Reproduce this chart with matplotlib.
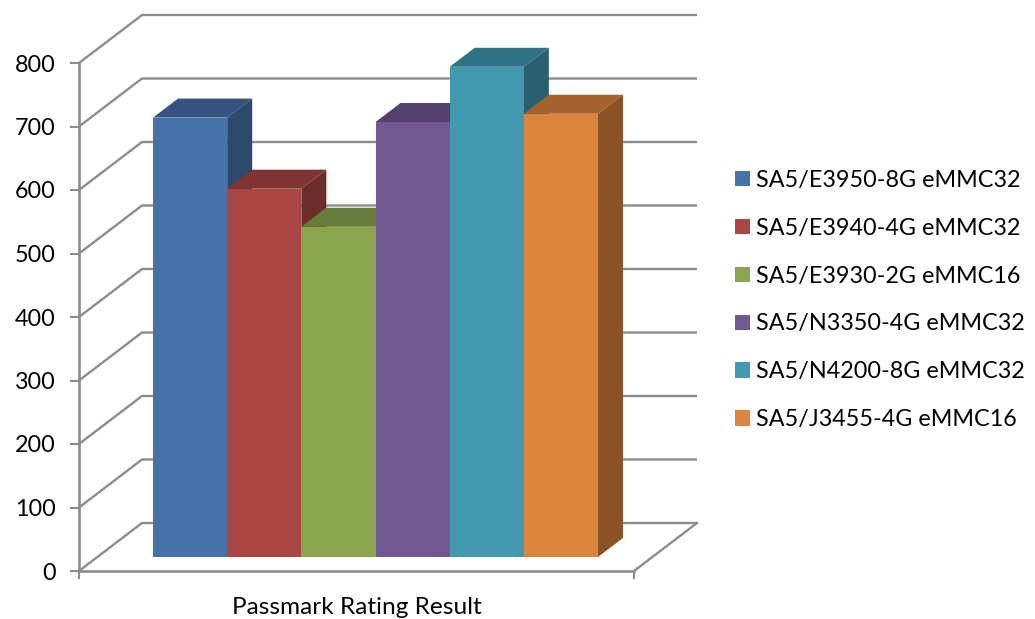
import numpy as np
import matplotlib
matplotlib.use('Agg')
import matplotlib.pyplot as plt

# chart values
names = ['SA5/E3950-8G eMMC32', 'SA5/E3940-4G eMMC32', 'SA5/E3930-2G eMMC16',
         'SA5/N3350-4G eMMC32', 'SA5/N4200-8G eMMC32', 'SA5/J3455-4G eMMC16']
values = [692, 580, 520, 685, 772, 698]
y_ticks = [0, 100, 200, 300, 400, 500, 600, 700, 800]
x_label = 'Passmark Rating Result'

front = ['#4572A7', '#AA4643', '#89A54E', '#71588F', '#4198AF', '#DB843D']
top = ['#34547F', '#803431', '#677C3A', '#54416B', '#307285', '#A5632D']
side = ['#2C486B', '#6C2C2A', '#576932', '#47375A', '#296070', '#8B5426']

plt.rcParams['font.family'] = ['Lato', 'DejaVu Sans']
W, H = 1035, 619
fig = plt.figure(figsize=(W / 100, H / 100), dpi=100)
ax = fig.add_axes([79 / W, 1 - 571 / H, (634 - 79) / W, (571 - 63) / H])

# one category = 74.17 px, one rating unit = 0.635 px
slot = 74.17
unit = 0.635
x_left = -0.5 - (153 - 79) / slot
x_right = x_left + (634 - 79) / slot
ax.set_xlim(x_left, x_right)
ax.set_ylim(0, 800)

grid_c = '#8C8C8C'
wall_dx = 63 / slot
wall_dy = 48 / unit
bar_dx = 25 / slot
bar_dy = 19 / unit
bar_base = 14 / unit

# back wall and floor
for v in y_ticks:
    ax.plot([x_left, x_left + wall_dx, x_right + wall_dx], [v, v + wall_dy, v + wall_dy],
            color=grid_c, lw=1.7, clip_on=False, zorder=1, solid_capstyle='butt')
ax.plot([x_right, x_right + wall_dx], [0, wall_dy], color=grid_c, lw=1.7, clip_on=False, zorder=1)

handles = []
for i, v in enumerate(values):
    z = 3 + i
    t = bar_base + v
    ax.fill([i - .5, i + .5, i + .5 + bar_dx, i - .5 + bar_dx], [t, t, t + bar_dy, t + bar_dy],
            color=top[i], lw=0, clip_on=False, zorder=z)
    ax.fill([i + .5, i + .5 + bar_dx, i + .5 + bar_dx, i + .5],
            [bar_base, bar_base + bar_dy, t + bar_dy, t],
            color=side[i], lw=0, clip_on=False, zorder=z)
    b = ax.bar(i, v, width=1, bottom=bar_base, color=front[i], label=names[i],
               clip_on=False, zorder=z)
    handles.append(b)

for s in ['top', 'right']:
    ax.spines[s].set_visible(False)
for s in ['left', 'bottom']:
    ax.spines[s].set_color(grid_c)
    ax.spines[s].set_linewidth(1.9)
    ax.spines[s].set_zorder(2)

ax.set_yticks(y_ticks)
ax.set_xticks([x_left, x_right])
ax.set_xticklabels(['', ''])
ax.tick_params(axis='y', length=6.5, width=1.5, color=grid_c, labelsize=16.8, pad=10.5, labelcolor='black')
ax.tick_params(axis='x', length=6, width=1.5, color=grid_c)
ax.set_xlabel(x_label, fontsize=17.6, labelpad=9, x=0.5)

ax.legend(handles=handles, labels=names, loc='center left', bbox_to_anchor=(735 / W, 1 - 300 / H),
          bbox_transform=fig.transFigure, frameon=False, fontsize=16.8, handlelength=0.64,
          handleheight=0.64, handletextpad=0.26, labelspacing=1.15, borderpad=0, borderaxespad=0)

fig.savefig('out.png', dpi=100)
